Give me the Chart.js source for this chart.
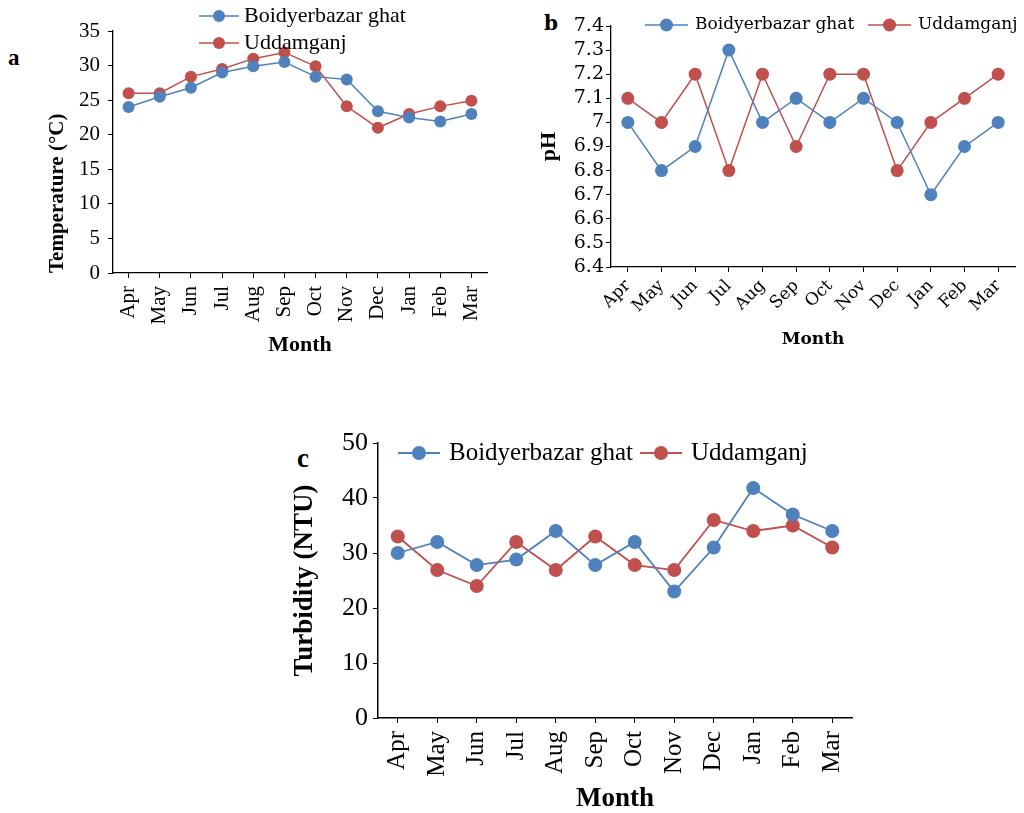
<!DOCTYPE html>
<html>
<head>
<meta charset="utf-8">
<script src="https://cdn.jsdelivr.net/npm/chart.js@4.4.0/dist/chart.umd.min.js"></script>
<style>
    body { margin: 0; background: #fff; width: 1024px; height: 813px; position: relative; overflow: hidden; }
    canvas { position: absolute; }
    .panel { position: absolute; font-weight: bold; color: #000; line-height: 1; }
</style>
</head>
<body>
<div class="panel" style="left:8px;top:45px;font:bold 23px 'Liberation Serif'">a</div>
<div class="panel" style="left:544px;top:11px;font:bold 20px 'DejaVu Serif'">b</div>
<div class="panel" style="left:297px;top:443px;font:bold 27px 'Liberation Serif'">c</div>

<canvas id="tempChart" style="left:0;top:0" width="512" height="360"></canvas>
<canvas id="phChart" style="left:512px;top:0" width="512" height="360"></canvas>
<canvas id="turbChart" style="left:280px;top:420px" width="600" height="393"></canvas>

<script>
// data
const months = ["Apr", "May", "Jun", "Jul", "Aug", "Sep", "Oct", "Nov", "Dec", "Jan", "Feb", "Mar"];
const siteNames = ["Boidyerbazar ghat", "Uddamganj"];

const tempBoidyer = [24, 25.5, 26.8, 29, 29.9, 30.5, 28.4, 28, 23.4, 22.5, 21.9, 23];
const tempUddam = [26, 26, 28.4, 29.5, 31, 31.9, 29.9, 24.1, 21, 23, 24.1, 24.9];
const tempTicks = [0, 5, 10, 15, 20, 25, 30, 35];

const phBoidyer = [7.0, 6.8, 6.9, 7.3, 7.0, 7.1, 7.0, 7.1, 7.0, 6.7, 6.9, 7.0];
const phUddam = [7.1, 7.0, 7.2, 6.8, 7.2, 6.9, 7.2, 7.2, 6.8, 7.0, 7.1, 7.2];
const phTicks = [6.4, 6.5, 6.6, 6.7, 6.8, 6.9, 7.0, 7.1, 7.2, 7.3, 7.4];

const turbBoidyer = [30, 32, 27.8, 28.8, 34, 27.8, 32, 23, 31, 41.8, 37, 34];
const turbUddam = [33, 26.9, 24, 32, 26.9, 33, 27.8, 26.9, 36, 34, 35, 31];
const turbTicks = [0, 10, 20, 30, 40, 50];

const blue = "#4f81bd";
const red = "#c0504d";
const TIMES = "'Liberation Serif', 'Times New Roman', serif";
const WIDE = "'DejaVu Serif', serif";

Chart.defaults.color = "#000";
Chart.defaults.animation = false;

// legend drawn at fixed spots, like the original excel one
const lineLegend = {
    id: "lineLegend",
    afterDraw(chart, args, opts) {
        const ctx = chart.ctx;
        ctx.save();
        chart.data.datasets.forEach((ds, i) => {
            const p = opts.items[i];
            ctx.strokeStyle = ds.borderColor;
            ctx.lineWidth = ds.borderWidth;
            ctx.beginPath();
            ctx.moveTo(p.x, p.y);
            ctx.lineTo(p.x + opts.lineLen, p.y);
            ctx.stroke();
            ctx.fillStyle = ds.backgroundColor;
            ctx.beginPath();
            ctx.arc(p.x + opts.lineLen / 2, p.y, ds.pointRadius, 0, Math.PI * 2);
            ctx.fill();
            ctx.fillStyle = "#000";
            ctx.font = opts.font;
            ctx.textBaseline = "middle";
            ctx.fillText(ds.label, p.x + opts.lineLen + opts.gap, p.y);
        });
        ctx.restore();
    },
};

function series(label, data, color, radius, width) {
    return {
        label: label,
        data: data,
        borderColor: color,
        backgroundColor: color,
        borderWidth: width,
        pointRadius: radius,
        pointHoverRadius: radius,
        pointBorderWidth: 0,
        tension: 0,
    };
}

/******** a: Temperature *********/
new Chart(document.getElementById("tempChart"), {
    type: "line",
    data: {
        labels: months,
        datasets: [
            series(siteNames[0], tempBoidyer, blue, 6, 1.5),
            series(siteNames[1], tempUddam, red, 6, 1.5),
        ],
    },
    options: {
        responsive: false,
        layout: { padding: { left: 0, top: 31, right: 25, bottom: 0 } },
        plugins: {
            legend: { display: false },
            tooltip: { enabled: false },
            lineLegend: {
                items: [{ x: 199, y: 16 }, { x: 199, y: 43 }],
                lineLen: 40,
                gap: 5,
                font: "22px " + TIMES,
            },
        },
        scales: {
            x: {
                offset: true,
                afterFit: (s) => { s.height = 87; },
                grid: { drawOnChartArea: false, offset: false, tickLength: 5, color: "#000" },
                border: { color: "#000", width: 1.3 },
                ticks: { minRotation: 90, maxRotation: 90, autoSkip: false, padding: 8, font: { family: TIMES, size: 21 } },
                title: { display: true, text: "Month", font: { family: TIMES, size: 22, weight: "bold" }, padding: { top: 0, bottom: 1 } },
            },
            y: {
                min: tempTicks[0],
                max: tempTicks[tempTicks.length - 1],
                afterBuildTicks: (s) => { s.ticks = tempTicks.map((v) => ({ value: v })); },
                afterFit: (s) => { s.width = 113; },
                grid: { drawOnChartArea: false, tickLength: 5, color: "#000" },
                border: { color: "#000", width: 1.3 },
                ticks: { autoSkip: false, padding: 8, font: { family: TIMES, size: 21 } },
                title: {
                    display: true,
                    text: "Temperature (°C)",
                    align: "start",
                    font: { family: TIMES, size: 21, weight: "bold" },
                    padding: { top: 45, bottom: 0 },
                },
            },
        },
    },
    plugins: [lineLegend],
});

/******** b: pH *********/
new Chart(document.getElementById("phChart"), {
    type: "line",
    data: {
        labels: months,
        datasets: [
            series(siteNames[0], phBoidyer, blue, 6.5, 1.5),
            series(siteNames[1], phUddam, red, 6.5, 1.5),
        ],
    },
    options: {
        responsive: false,
        layout: { padding: { left: 0, top: 26, right: 9, bottom: 0 } },
        plugins: {
            legend: { display: false },
            tooltip: { enabled: false },
            lineLegend: {
                items: [{ x: 133, y: 25 }, { x: 356, y: 25 }],
                lineLen: 43,
                gap: 7,
                font: "17px " + WIDE,
            },
        },
        scales: {
            x: {
                offset: true,
                afterFit: (s) => { s.height = 93; },
                grid: { drawOnChartArea: false, offset: false, tickLength: 5, color: "#000" },
                border: { color: "#000", width: 1.3 },
                ticks: { minRotation: 45, maxRotation: 45, autoSkip: false, padding: 4, font: { family: WIDE, size: 17 } },
                title: { display: true, text: "Month", font: { family: WIDE, size: 17, weight: "bold" }, padding: { top: 0, bottom: 10 } },
            },
            y: {
                min: phTicks[0],
                max: phTicks[phTicks.length - 1],
                afterBuildTicks: (s) => { s.ticks = phTicks.map((v) => ({ value: v })); },
                afterFit: (s) => { s.width = 99; },
                grid: { drawOnChartArea: false, tickLength: 5, color: "#000" },
                border: { color: "#000", width: 1.3 },
                ticks: {
                    autoSkip: false,
                    padding: 2,
                    font: { family: WIDE, size: 19 },
                    callback: (v) => String(Math.round(v * 10) / 10),
                },
                title: { display: true, text: "pH", font: { family: TIMES, size: 22, weight: "bold" }, padding: { top: 24, bottom: 0 } },
            },
        },
    },
    plugins: [lineLegend],
});

/******** c: Turbidity *********/
new Chart(document.getElementById("turbChart"), {
    type: "line",
    data: {
        labels: months,
        datasets: [
            series(siteNames[0], turbBoidyer, blue, 7, 1.8),
            series(siteNames[1], turbUddam, red, 7, 1.8),
        ],
    },
    options: {
        responsive: false,
        layout: { padding: { left: 0, top: 23, right: 28, bottom: 0 } },
        plugins: {
            legend: { display: false },
            tooltip: { enabled: false },
            lineLegend: {
                items: [{ x: 118, y: 33 }, { x: 360, y: 33 }],
                lineLen: 42,
                gap: 9,
                font: "25px " + TIMES,
            },
        },
        scales: {
            x: {
                offset: true,
                afterFit: (s) => { s.height = 95; },
                grid: { drawOnChartArea: false, offset: false, tickLength: 5, color: "#000" },
                border: { color: "#000", width: 1.5 },
                ticks: { minRotation: 90, maxRotation: 90, autoSkip: false, padding: 8, font: { family: TIMES, size: 25 } },
                title: { display: true, text: "Month", font: { family: TIMES, size: 27, weight: "bold", lineHeight: 1 }, padding: { top: 0, bottom: 0 } },
            },
            y: {
                min: turbTicks[0],
                max: turbTicks[turbTicks.length - 1],
                afterBuildTicks: (s) => { s.ticks = turbTicks.map((v) => ({ value: v })); },
                afterFit: (s) => { s.width = 98; },
                grid: { drawOnChartArea: false, tickLength: 5, color: "#000" },
                border: { color: "#000", width: 1.5 },
                ticks: { autoSkip: false, padding: 5, font: { family: TIMES, size: 26 } },
                title: { display: true, text: "Turbidity (NTU)", font: { family: TIMES, size: 27, weight: "bold" }, padding: { top: 9, bottom: 0 } },
            },
        },
    },
    plugins: [lineLegend],
});
</script>
</body>
</html>
